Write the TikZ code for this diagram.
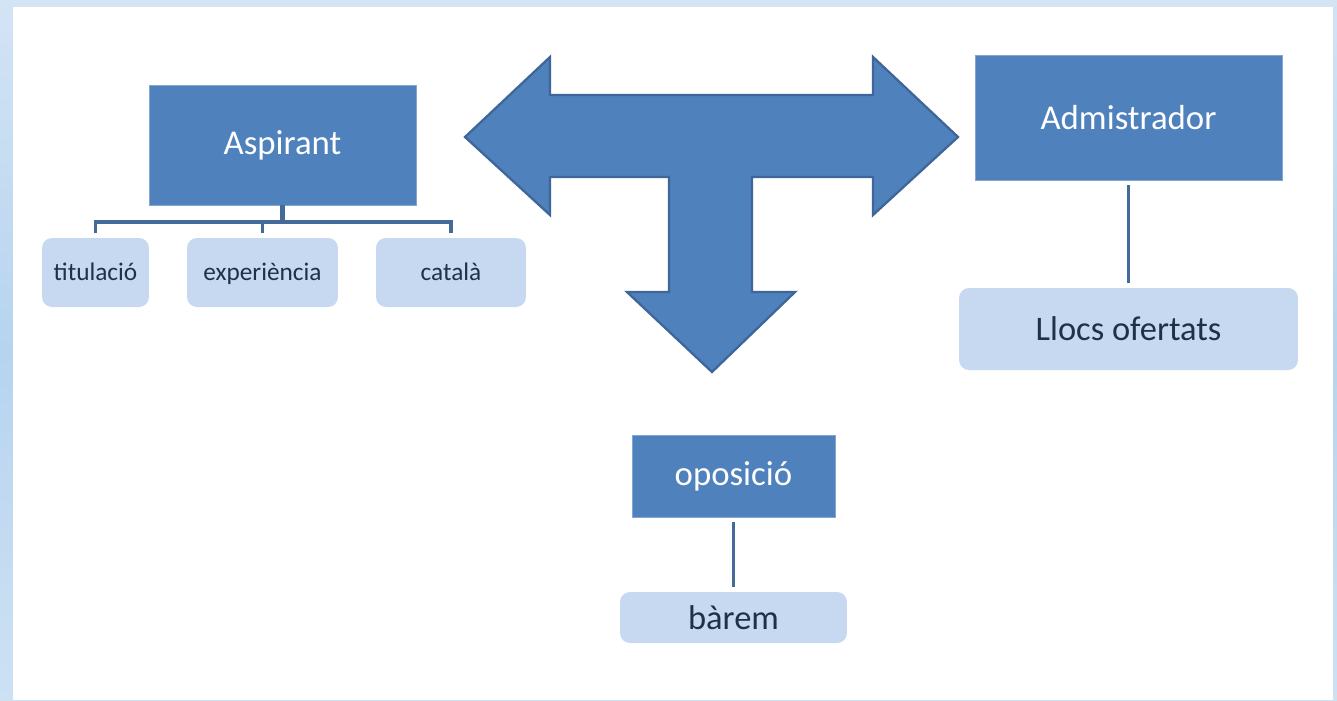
\documentclass[tikz,border=0pt]{standalone}
\usepackage{fontspec}
\setmainfont{Carlito}
\usetikzlibrary{calc}

\definecolor{boxblue}{HTML}{4F81BD}
\definecolor{edgeblue}{HTML}{3E6699}
\definecolor{lightbox}{HTML}{C6D9F0}
\definecolor{darktext}{HTML}{1F3049}
\definecolor{linkblue}{HTML}{44699B}
\definecolor{bgtop}{HTML}{D3E4F4}
\definecolor{bgmid}{HTML}{B6D4EF}

\begin{document}
\begin{tikzpicture}[x=0.02cm,y=-0.02cm,
    mainbox/.style={fill=boxblue, draw=boxblue!70!white, line width=0.4pt,
        text=white, font=\fontsize{19.8}{23}\selectfont},
    subbox/.style={fill=lightbox, rounded corners=0.2cm, text=darktext,
        font=\fontsize{19.6}{23}\selectfont},
    smallbox/.style={fill=lightbox, rounded corners=0.2cm, text=darktext,
        text height=1.0em, text depth=0.1em,
        font=\fontsize{14.4}{17}\selectfont},
    link/.style={draw=linkblue, line width=2pt}]

    %% background
    \shade[top color=bgtop, bottom color=bgtop!80!bgmid, middle color=bgmid]
        (0,0) rectangle (1337,700);
    \fill[white] (13,7) rectangle (1333,700);
    \useasboundingbox (0,0) rectangle (1337,700);

    %% T shaped arrow
    \draw[fill=boxblue, draw=edgeblue, line width=1.3pt, line join=miter]
        (465,137) -- (550,57) -- (550,95) -- (873,95) -- (873,57) -- (958,137)
        -- (873,215) -- (873,177) -- (752,177) -- (752,292) -- (795,292)
        -- (712,372) -- (627,292) -- (669,292) -- (669,177) -- (550,177)
        -- (550,215) -- cycle;

    %% Aspirant and its parts
    \node[mainbox, minimum width=5.34cm, minimum height=2.4cm] (asp) at (282.5,145) {Aspirant};
    \node[smallbox, minimum width=2.14cm, minimum height=1.38cm] (tit) at (95.5,272.5) {titulació};
    \node[smallbox, minimum width=3.02cm, minimum height=1.38cm] (exp) at (262.5,272.5) {experiència};
    \node[smallbox, minimum width=3.0cm, minimum height=1.38cm] (cat) at (451,272.5) {català};

    \coordinate (bus) at (282.5,222);
    \draw[link, line width=2.6pt] (asp.south) -- (bus);
    \foreach \c in {tit,exp,cat}
        \draw[link, line width=1.8pt] (bus) -| ([yshift=0.1cm]\c.north);

    %% Admistrador
    \node[mainbox, minimum width=6.14cm, minimum height=2.5cm] (adm) at (1128.5,117.5) {Admistrador};
    \node[subbox, minimum width=6.78cm, minimum height=1.64cm] (llocs) at (1128.5,329) {Llocs ofertats};
    \draw[link, shorten <=0.1cm, shorten >=0.1cm] (adm) -- (llocs);

    %% oposicio
    \node[mainbox, minimum width=4.06cm, minimum height=1.64cm] (opo) at (733.5,476) {oposició};
    \node[subbox, minimum width=4.54cm, minimum height=1.02cm] (bar) at (733.5,617.5) {bàrem};
    \draw[link, shorten <=0.1cm, shorten >=0.1cm] (opo) -- (bar);
\end{tikzpicture}
\end{document}
